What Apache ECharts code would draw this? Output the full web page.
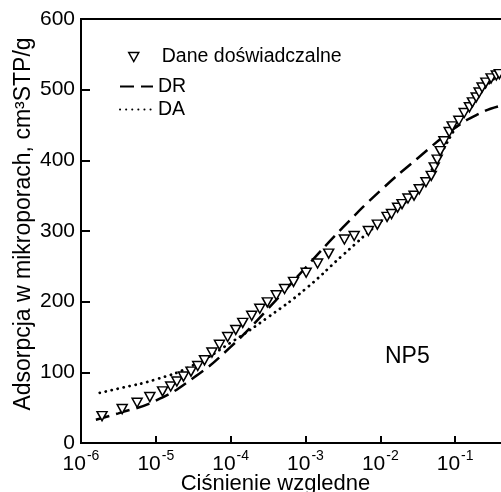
<!DOCTYPE html>
<html>
<head>
<meta charset="utf-8">
<script src="https://cdn.jsdelivr.net/npm/echarts@6/dist/echarts.min.js"></script>
<style>
  html, body { margin: 0; padding: 0; background: #fff; }
  #chart { width: 501px; height: 492px; }
</style>
</head>
<body>
<div id="chart"></div>
<script>
  // measured points (relative pressure, adsorption cm3 STP/g)
  const dataP = [1.91e-6, 3.55e-6, 5.62e-6, 8.32e-6, 1.23e-5, 1.58e-5, 1.91e-5, 2.34e-5, 2.95e-5, 3.63e-5,
    4.47e-5, 5.62e-5, 7.08e-5, 9.12e-5, 1.17e-4, 1.45e-4, 1.91e-4, 2.45e-4, 3.09e-4, 4.07e-4,
    5.25e-4, 6.92e-4, 1.02e-3, 1.45e-3, 2.04e-3, 3.31e-3, 4.47e-3, 6.92e-3, 9.12e-3, 1.23e-2,
    1.41e-2, 1.70e-2, 1.95e-2, 2.34e-2, 2.82e-2, 3.31e-2, 4.07e-2, 4.79e-2, 5.25e-2, 5.75e-2,
    6.31e-2, 7.08e-2, 8.32e-2, 9.12e-2, 0.112, 0.132, 0.155, 0.170, 0.191, 0.209,
    0.229, 0.257, 0.302, 0.355, 0.389]
  const dataV = [38, 48, 57, 65, 73, 80, 87, 94, 101, 109,
    117, 128, 139, 150, 160, 170, 180, 190, 199, 209,
    218, 228, 241, 254, 268, 288, 293, 300, 309, 320,
    324, 333, 338, 346, 350, 359, 369, 378, 390, 401,
    413, 427, 440, 448, 456, 467, 475, 482, 489, 496,
    503, 510, 516, 520, 522]

  // DR model curve
  const drP = [1.58e-6, 3.16e-6, 1e-5, 3.16e-5, 1e-4, 3.16e-4, 1e-3, 3.16e-3, 1e-2, 3.16e-2, 0.1, 0.2, 0.4, 1]
  const drV = [33, 42, 60, 92, 136, 190, 248, 305, 357, 403, 446, 465, 477, 485]

  // DA model curve
  const daP = [1.78e-6, 3.16e-6, 1e-5, 3.16e-5, 1e-4, 3.16e-4, 1e-3, 3.16e-3, 1e-2, 3.16e-2, 0.0631, 0.1, 0.158, 0.251, 0.398, 1]
  const daV = [71, 77, 90, 110, 142, 178, 218, 266, 313, 358, 408, 445, 476, 503, 520, 532]

  const FONT = '"Liberation Sans", Arial, sans-serif'
  const zip = (xs, ys) => xs.map((x, i) => [x, ys[i]])
  const triDown = 'path://M0,0L10,0L5,9Z'

  const chart = echarts.init(document.getElementById('chart'))
  chart.setOption({
    animation: false,
    textStyle: { fontFamily: FONT, color: '#000' },
    grid: {
      left: 81, top: 19, bottom: 49, right: -29,
      outerBoundsMode: 'none', containLabel: false,
      show: true, borderColor: '#000', borderWidth: 2
    },
    legend: [
      {
        left: 128, top: 47, padding: 0,
        itemWidth: 10, itemHeight: 9,
        textStyle: { fontFamily: FONT, fontSize: 19.5, color: '#000', padding: [0, 0, 0, 18] },
        data: [{ name: 'Dane doświadczalne', icon: triDown, itemStyle: { color: '#fff', borderColor: '#000', borderWidth: 1.5 } }]
      },
      {
        left: 119, top: 76, padding: 0, orient: 'vertical',
        itemWidth: 33, itemHeight: 14, itemGap: 2,
        textStyle: { fontFamily: FONT, fontSize: 19.5, color: '#000', lineHeight: 21 },
        data: [
          { name: 'DR', itemStyle: { opacity: 0 } },
          { name: 'DA', itemStyle: { opacity: 0 } }
        ]
      }
    ],
    xAxis: {
      type: 'log', logBase: 10, min: 1e-6, max: 1,
      name: 'Ciśnienie wzgledne', nameLocation: 'middle', nameGap: 30, nameMoveOverlap: false,
      nameTextStyle: { fontFamily: FONT, fontSize: 22, color: '#000', padding: [0, 60, 0, 0] },
      axisLine: { lineStyle: { color: '#000', width: 2 } },
      axisTick: { inside: true, length: 7, lineStyle: { color: '#000', width: 2 } },
      minorTick: { show: false },
      splitLine: { show: false },
      axisLabel: {
        margin: 6,
        formatter: v => '{b|10}{s|' + Math.round(Math.log10(v)) + '}',
        rich: {
          b: { fontFamily: FONT, fontSize: 21, color: '#000', lineHeight: 26, verticalAlign: 'bottom' },
          s: { fontFamily: FONT, fontSize: 14, color: '#000', lineHeight: 14, verticalAlign: 'top', padding: [0, 0, 0, 1] }
        }
      }
    },
    yAxis: {
      type: 'value', min: 0, max: 600, interval: 100,
      name: 'Adsorpcja w mikroporach, cm³STP/g', nameLocation: 'middle', nameGap: 46, nameMoveOverlap: false,
      nameTextStyle: { fontFamily: FONT, fontSize: 23, color: '#000', padding: [0, 0, 0, 14] },
      axisLine: { show: true, lineStyle: { color: '#000', width: 2 } },
      axisTick: { show: true, inside: true, length: 9, lineStyle: { color: '#000', width: 2 } },
      splitLine: { show: false },
      axisLabel: { fontFamily: FONT, fontSize: 21, color: '#000', margin: 6 }
    },
    graphic: [
      { type: 'text', left: 385, top: 345, style: { text: 'NP5', font: '23px ' + FONT, fill: '#000' } }
    ],
    series: [
      {
        name: 'DR', type: 'line', data: zip(drP, drV), smooth: true, symbol: 'none',
        itemStyle: { color: '#000' },
        lineStyle: { color: '#000', width: 2.5, type: [14, 7] }, z: 2
      },
      {
        name: 'DA', type: 'line', data: zip(daP, daV), smooth: true, symbol: 'none',
        itemStyle: { color: '#000' },
        lineStyle: { color: '#000', width: 2.8, type: [0.1, 6], cap: 'round' }, z: 2
      },
      {
        name: 'Dane doświadczalne', type: 'scatter', data: zip(dataP, dataV),
        symbol: 'triangle', symbolRotate: 180, symbolSize: [10, 9],
        itemStyle: { color: '#fff', borderColor: '#000', borderWidth: 1.5, opacity: 1 }, z: 3
      }
    ]
  })
</script>
</body>
</html>
